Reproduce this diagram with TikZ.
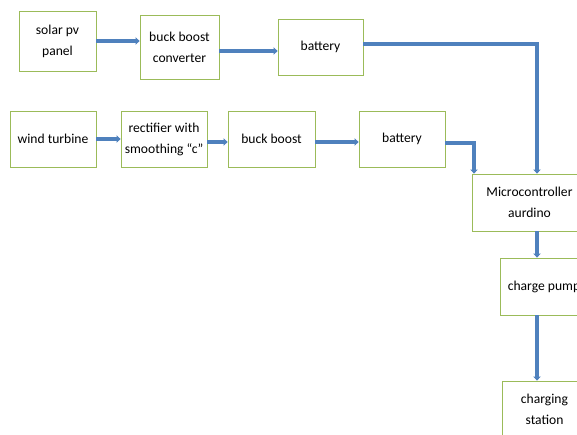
\documentclass[tikz,border=0pt]{standalone}
\usepackage{fontspec}
\setmainfont{Carlito}
\usepackage{tikz}
\usetikzlibrary{arrows.meta,positioning,calc}
\definecolor{officegreen}{RGB}{155,187,89}
\definecolor{officeblue}{RGB}{79,129,189}

\begin{document}
\begin{tikzpicture}[
    x=1pt, y=-1pt,
    box/.style={rectangle, draw=officegreen, line width=0.9pt, fill=white,
        align=center, inner sep=2pt, font=\fontsize{13.6}{21}\selectfont},
    arr/.style={-{Triangle[length=4pt,width=7.5pt]}, line width=3.6pt, officeblue}
]
    \useasboundingbox (0,0) rectangle (577,434);
    \clip (0,0) rectangle (577,434);

    % Solar branch
    \node[box, minimum width=77pt, minimum height=60pt] (solar) at (57.5,41) {solar pv\\panel};
    \node[box, minimum width=79pt, minimum height=64pt] (bbconv) at (179.5,47) {buck boost\\converter};
    \node[box, minimum width=85pt, minimum height=56pt] (bat1) at (320.5,47) {battery};

    % Wind branch
    \node[box, minimum width=86pt, minimum height=56pt] (wind) at (53,139) {wind turbine};
    \node[box, minimum width=86pt, minimum height=56pt] (rect) at (164,139) {rectifier with\\smoothing ``c''};
    \node[box, minimum width=87pt, minimum height=56pt] (buck) at (271.5,139) {buck boost};
    \node[box, minimum width=86pt, minimum height=56pt] (bat2) at (402,139) {battery};

    % Controller and charging
    \node[box, minimum width=115pt, minimum height=57pt] (mcu) at (529.5,202.5) {Microcontroller\\aurdino};
    \node[box, minimum width=88pt, minimum height=57pt] (pump) at (544,286.5) {charge pump};
    \node[box, minimum width=85pt, minimum height=57pt] (station) at (544.5,409.5) {charging\\station};

    \coordinate (mcuin) at ([xshift=7.5pt]mcu.north);
    \coordinate (mcuout) at ([xshift=7.5pt]mcu.south);

    % Arrows
    \draw[arr] (solar) -- (bbconv.west |- solar);
    \draw[arr] ([yshift=-4pt]bbconv.east) -- ([yshift=-4pt]bat1.west);
    \draw[arr] ([yshift=3pt]bat1.east) -| (mcuin);
    \draw[arr] (wind) -- (rect);
    \draw[arr] ([yshift=-3pt]rect.east) -- ([yshift=-3pt]buck.west);
    \draw[arr] ([yshift=-3pt]buck.east) -- ([yshift=-3pt]bat2.west);
    \draw[arr] ([yshift=-4pt]bat2.east) -| ([xshift=-55.5pt]mcu.north);
    \draw[arr] (mcuout) -- (pump.north -| mcuout);
    \draw[arr] (pump.south -| mcuout) -- (station.north -| mcuout);
\end{tikzpicture}
\end{document}
